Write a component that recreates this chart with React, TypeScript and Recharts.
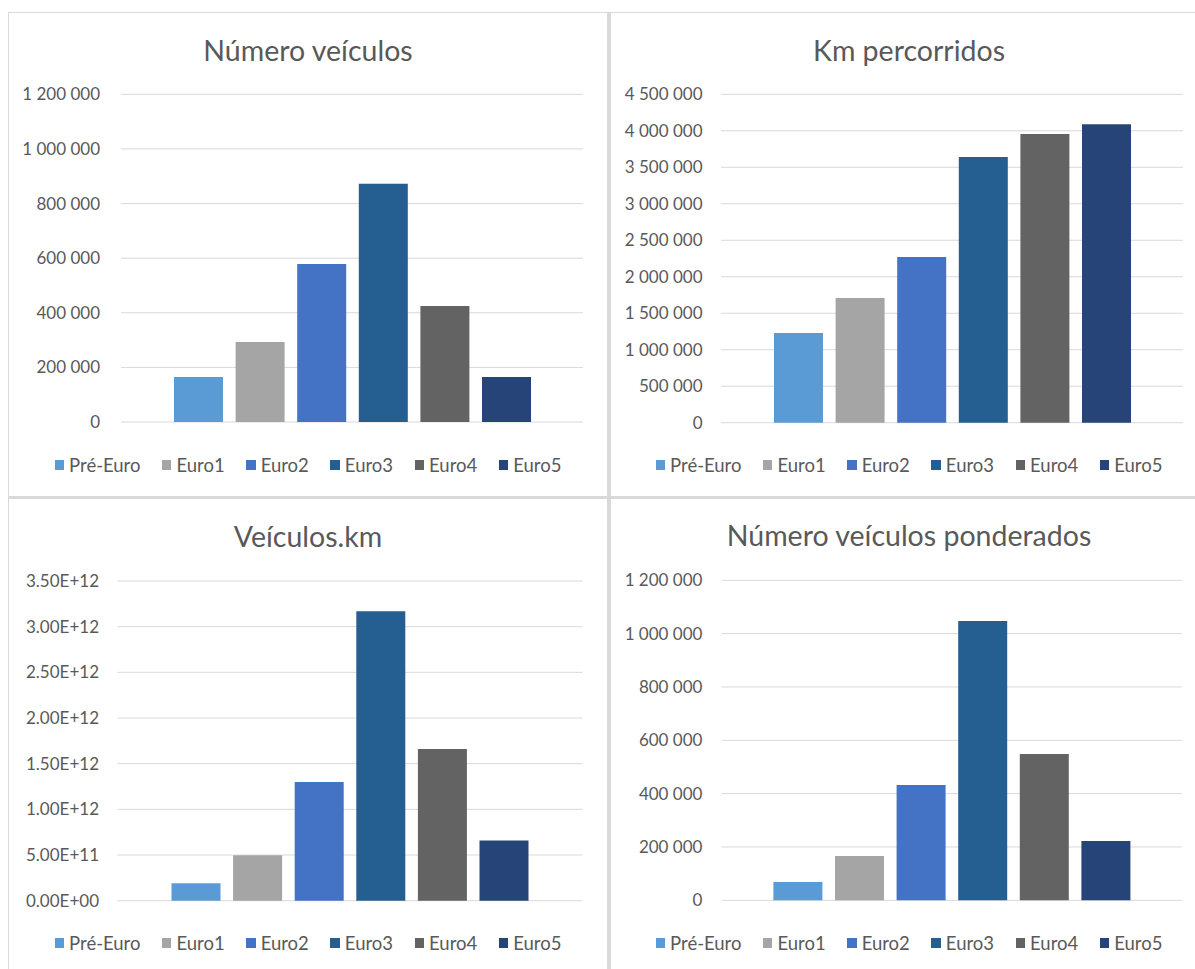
import React from 'react';
import { BarChart, Bar, XAxis, YAxis, CartesianGrid, Legend } from 'recharts';

const categories = ['Pré-Euro', 'Euro1', 'Euro2', 'Euro3', 'Euro4', 'Euro5'];
const colors = ['#5B9BD5', '#A5A5A5', '#4472C4', '#255E91', '#636363', '#264478'];

const numeroVeiculos = [165000, 293000, 579000, 872000, 425000, 165000];
const kmPercorridos = [1229000, 1708000, 2270000, 3640000, 3955000, 4090000];
const veiculosKm = [1.9e11, 4.97e11, 1.3e12, 3.17e12, 1.66e12, 6.6e11];
const numeroPonderados = [69000, 166000, 432000, 1047000, 549000, 222000];

const ticksVeiculos = [0, 200000, 400000, 600000, 800000, 1000000, 1200000];
const ticksKm = [0, 500000, 1000000, 1500000, 2000000, 2500000, 3000000, 3500000, 4000000, 4500000];
const ticksVkm = [0, 5e11, 1e12, 1.5e12, 2e12, 2.5e12, 3e12, 3.5e12];

const FONT = 'Lato, "Open Sans", sans-serif';
const TEXT = '#595959';
const GRID = '#d9d9d9';

// "1 200 000"
const fmtSpaces = (v: number) => String(Math.round(v)).replace(/\B(?=(\d{3})+(?!\d))/g, ' ');

// "3.50E+12"
const fmtSci = (v: number) => {
  const [m, e] = v.toExponential(2).split('e');
  const sign = e.startsWith('-') ? '-' : '+';
  return `${m}E${sign}${e.replace(/[+-]/, '').padStart(2, '0')}`;
};

// legend keeps the series order, not alphabetical
const renderLegend = (props: any) => {
  const items = [...(props.payload || [])].sort(
    (a: any, b: any) => categories.indexOf(a.value) - categories.indexOf(b.value),
  );
  return (
    <div
      style={{
        display: 'flex',
        justifyContent: 'center',
        gap: 21.5,
        fontFamily: FONT,
        fontSize: 18.5,
        lineHeight: '20px',
        color: TEXT,
      }}
    >
      {items.map((entry: any) => (
        <span key={entry.value} style={{ display: 'flex', alignItems: 'center' }}>
          <span style={{ width: 9.5, height: 9.5, background: entry.color, marginRight: 5 }} />
          <span>{entry.value}</span>
        </span>
      ))}
    </div>
  );
};

interface PanelProps {
  title: string;
  values: number[];
  ticks: number[];
  format: (v: number) => string;
  left: number;
  top: number;
  height: number;
  yWidth: number;
  tickGap: number;
  margin: { top: number; right: number; bottom: number; left: number };
  titleY: number;
  legendTop: number;
  border: React.CSSProperties;
}

const W = 600;

const Panel: React.FC<PanelProps> = (p) => {
  const row: Record<string, number | string> = { name: '' };
  categories.forEach((c, i) => {
    row[c] = p.values[i];
  });

  return (
    <>
      <div
        style={{
          position: 'absolute',
          left: p.left,
          top: p.top,
          width: W + 1,
          height: p.height + 1,
          boxSizing: 'border-box',
          borderStyle: 'solid',
          borderColor: GRID,
          borderWidth: 0,
          ...p.border,
        }}
      />
      <div
        style={{
          position: 'absolute',
          left: p.left,
          top: p.top + p.titleY - 17,
          width: W,
          textAlign: 'center',
          fontFamily: FONT,
          fontSize: 28.5,
          lineHeight: '34px',
          color: TEXT,
        }}
      >
        {p.title}
      </div>
      <div style={{ position: 'absolute', left: p.left, top: p.top }}>
        <BarChart
          width={W}
          height={p.height}
          data={[row]}
          margin={p.margin}
          barGap={12.6}
          style={{ fontFamily: FONT }}
        >
          <CartesianGrid vertical={false} stroke={GRID} strokeWidth={1} />
          <XAxis dataKey="name" hide />
          <YAxis
            width={p.yWidth}
            domain={[0, p.ticks[p.ticks.length - 1]]}
            ticks={p.ticks}
            interval={0}
            axisLine={false}
            tickLine={false}
            tickSize={0}
            tickMargin={p.tickGap}
            tickFormatter={p.format}
            tick={{ fill: TEXT, fontSize: 17, fontFamily: FONT }}
          />
          <Legend
            verticalAlign="middle"
            align="center"
            content={renderLegend}
            wrapperStyle={{ top: p.legendTop, left: 0, width: W }}
          />
          {categories.map((c, i) => (
            <Bar key={c} dataKey={c} name={c} fill={colors[i]} barSize={49} isAnimationActive={false} />
          ))}
        </BarChart>
      </div>
    </>
  );
};

export default function App() {
  return (
    <div style={{ position: 'absolute', left: 0, top: 0, width: 1195, height: 969, background: '#fff', overflow: 'hidden' }}>
      <Panel
        title="Número veículos"
        values={numeroVeiculos}
        ticks={ticksVeiculos}
        format={fmtSpaces}
        left={8}
        top={12}
        height={485}
        yWidth={113}
        tickGap={21}
        margin={{ top: 82.3, right: 25, bottom: 75, left: 0 }}
        titleY={50 - 12}
        legendTop={443}
        border={{ borderLeftWidth: 1, borderTopWidth: 1, borderRightWidth: 2, borderBottomWidth: 2 }}
      />
      <Panel
        title="Km percorridos"
        values={kmPercorridos}
        ticks={ticksKm}
        format={fmtSpaces}
        left={609}
        top={12}
        height={485}
        yWidth={112}
        tickGap={18.5}
        margin={{ top: 82.3, right: 26, bottom: 74.3, left: 0 }}
        titleY={50 - 12}
        legendTop={443}
        border={{ borderLeftWidth: 2, borderTopWidth: 1, borderBottomWidth: 2 }}
      />
      <Panel
        title="Veículos.km"
        values={veiculosKm}
        ticks={ticksVkm}
        format={fmtSci}
        left={8}
        top={498}
        height={480}
        yWidth={109.5}
        tickGap={18.5}
        margin={{ top: 83, right: 25.5, bottom: 77.3, left: 0 }}
        titleY={536 - 498}
        legendTop={435}
        border={{ borderLeftWidth: 1, borderTopWidth: 1, borderRightWidth: 2 }}
      />
      <Panel
        title="Número veículos ponderados"
        values={numeroPonderados}
        ticks={ticksVeiculos}
        format={fmtSpaces}
        left={609}
        top={498}
        height={480}
        yWidth={112.4}
        tickGap={19}
        margin={{ top: 82.3, right: 27.2, bottom: 77.7, left: 0 }}
        titleY={535 - 498}
        legendTop={435}
        border={{ borderLeftWidth: 2, borderTopWidth: 1 }}
      />
    </div>
  );
}
